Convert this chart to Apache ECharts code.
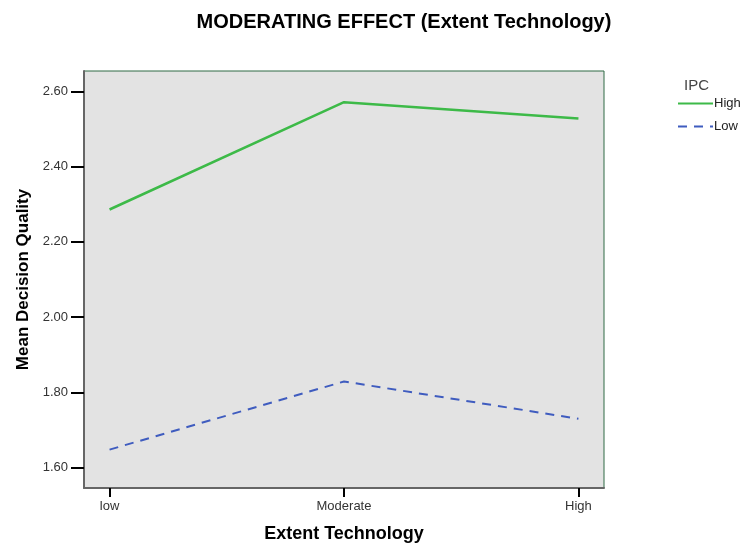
<!DOCTYPE html>
<html><head><meta charset="utf-8">
<script src="https://cdn.jsdelivr.net/npm/echarts@6/dist/echarts.min.js"></script>
<style>html,body{margin:0;padding:0;background:#fff}#c{width:743px;height:544px}</style>
</head><body><div id="c"></div>
<script>
const categories = ['low', 'Moderate', 'High'];
const highIPC = [2.286, 2.571, 2.528];
const lowIPC = [1.648, 1.829, 1.730];
const yTicks = [1.6, 1.8, 2.0, 2.2, 2.4, 2.6];
const seriesNames = ['High', 'Low'];

const font = '"Liberation Sans", Arial, sans-serif';
const chart = echarts.init(document.getElementById('c'));
const toPts = arr => arr.map((v, i) => [i, v]);
chart.setOption({
  animation: false,
  backgroundColor: '#fff',
  title: {
    text: 'MODERATING EFFECT (Extent Technology)',
    left: 399, top: 7, textAlign: 'center',
    textStyle: { fontFamily: font, fontSize: 20, fontWeight: 'bold', color: '#000' }
  },
  grid: {
    left: 84, top: 71, right: 139, bottom: 56, outerBoundsMode: 'none', containLabel: false,
    show: true, backgroundColor: '#e3e3e3', borderColor: '#2e6b45', borderWidth: 1
  },
  legend: {
    orient: 'vertical', left: 672, top: 92, itemWidth: 35, itemHeight: 10, itemGap: 10,
    data: seriesNames,
    itemStyle: { opacity: 0 },
    textStyle: { fontFamily: font, fontSize: 13, color: '#222', padding: [0,0,0,-4] }
  },
  graphic: [{
    type: 'text', left: 684, top: 78,
    style: { text: 'IPC', font: '15px ' + font, fill: '#444' }
  }],
  xAxis: {
    type: 'value', min: -0.109, max: 2.109,
    name: 'Extent Technology', nameLocation: 'middle', nameGap: 37,
    nameTextStyle: { fontFamily: font, fontSize: 18, fontWeight: 'bold', color: '#000' },
    axisLine: { show: true, onZero: false, lineStyle: { color: '#666', width: 2 } },
    axisTick: { show: true, length: 9, customValues: [0, 1, 2], lineStyle: { color: '#000', width: 2 } },
    axisLabel: { customValues: [0, 1, 2], formatter: v => categories[Math.round(v)] || '',
      fontFamily: font, fontSize: 13, color: '#333', margin: 12 },
    splitLine: { show: false }
  },
  yAxis: {
    type: 'value', min: 1.546, max: 2.654,
    name: 'Mean Decision Quality', nameLocation: 'middle', nameGap: 52, nameRotate: 90,
    nameTextStyle: { fontFamily: font, fontSize: 17, fontWeight: 'bold', color: '#000' },
    axisLine: { show: true, onZero: false, lineStyle: { color: '#666', width: 2 } },
    axisTick: { show: true, length: 13, customValues: yTicks, lineStyle: { color: '#000', width: 2 } },
    axisLabel: { customValues: yTicks, formatter: v => v.toFixed(2),
      fontFamily: font, fontSize: 13, color: '#333', margin: 16 },
    splitLine: { show: false }
  },
  series: [
    { name: seriesNames[0], type: 'line', data: toPts(highIPC), symbol: 'none',
      lineStyle: { color: '#3dba48', width: 2.5 }, itemStyle: { color: '#3dba48' } },
    { name: seriesNames[1], type: 'line', data: toPts(lowIPC), symbol: 'none',
      lineStyle: { color: '#3f5cbf', width: 2, type: [9, 7] }, itemStyle: { color: '#3f5cbf' } }
  ]
});
</script></body></html>
